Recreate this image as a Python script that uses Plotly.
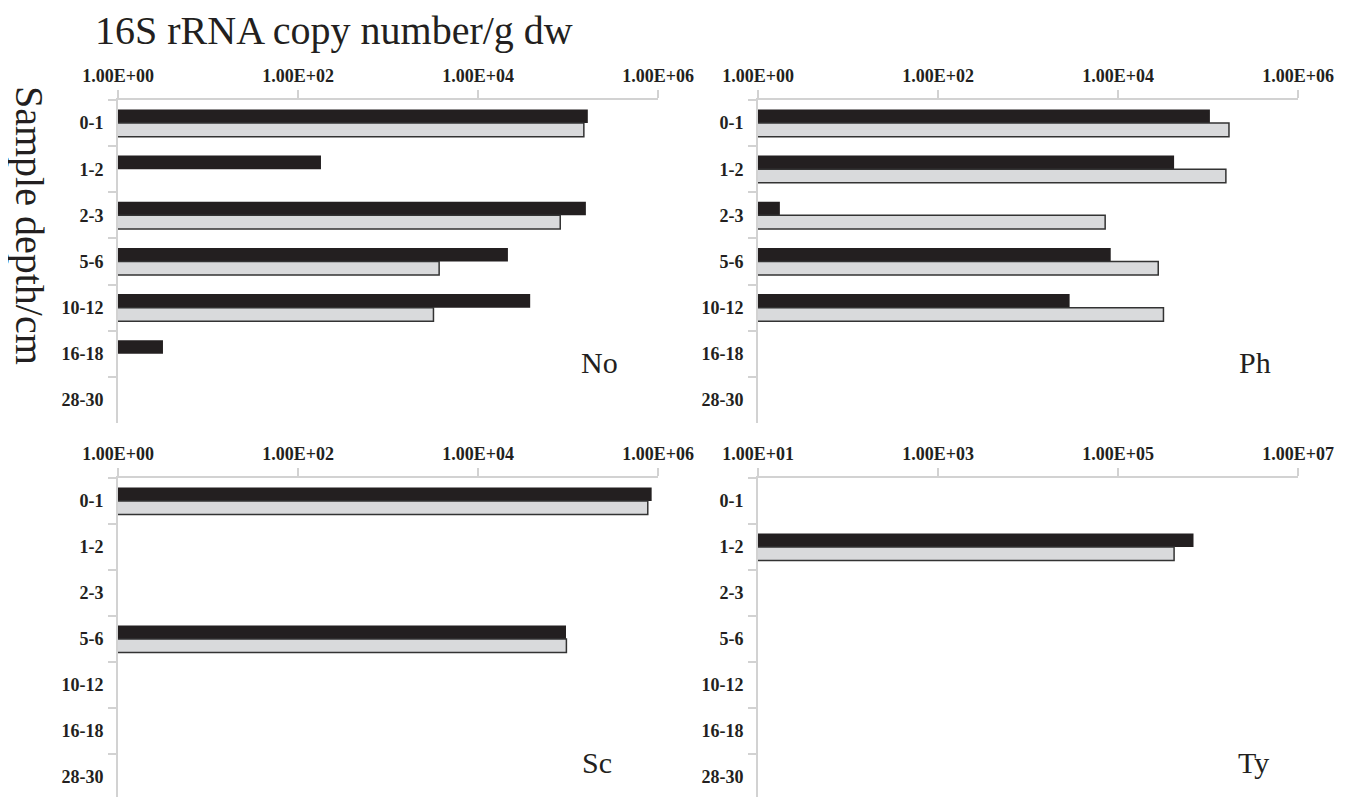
import plotly.graph_objects as go

categories = ["0-1", "1-2", "2-3", "5-6", "10-12", "16-18", "28-30"]

no_black = [1.66e5, 180, 1.58e5, 2.15e4, 3.8e4, 3.16, None]
no_gray = [1.5e5, None, 8.2e4, 3.7e3, 3.2e3, None, None]
ph_black = [1.05e5, 4.2e4, 1.75, 8.3e3, 2.9e3, None, None]
ph_gray = [1.71e5, 1.58e5, 7.2e3, 2.8e4, 3.2e4, None, None]
sc_black = [8.5e5, None, None, 9.5e4, None, None, None]
sc_gray = [7.7e5, None, None, 9.6e4, None, None, None]
ty_black = [None, 6.9e5, None, None, None, None, None]
ty_gray = [None, 4.2e5, None, None, None, None, None]

panels = ["No", "Ph", "Sc", "Ty"]
tick_vals_a = [1, 1e2, 1e4, 1e6]
tick_text_a = ["1.00E+00", "1.00E+02", "1.00E+04", "1.00E+06"]
tick_vals_b = [1e1, 1e3, 1e5, 1e7]
tick_text_b = ["1.00E+01", "1.00E+03", "1.00E+05", "1.00E+07"]

BLACK = "#231f20"
GRAY = "#d9dadc"
OUTLINE = "#333333"
AXIS = "#d2d2d2"
FONT = "Liberation Serif"

W, H, OFF = 1350, 797, 8  # page body margin offset


def px(p):
    return (p - OFF) / W


def py(p):
    return 1 - (p - OFF) / H


data = [(no_black, no_gray), (ph_black, ph_gray), (sc_black, sc_gray), (ty_black, ty_gray)]

fig = go.Figure()
for i, (b, g) in enumerate(data):
    n = "" if i == 0 else str(i + 1)
    fig.add_trace(go.Bar(y=categories, x=b, orientation="h", xaxis="x" + n, yaxis="y" + n,
                         marker=dict(color=BLACK, line=dict(width=0)), showlegend=False))
    fig.add_trace(go.Bar(y=categories, x=g, orientation="h", xaxis="x" + n, yaxis="y" + n,
                         marker=dict(color=GRAY, line=dict(width=1.5, color=OUTLINE)), showlegend=False))

xdom_l = [px(118), px(658)]
xdom_r = [px(758), px(1298)]
ydom_t = [py(423), py(100)]
ydom_b = [0, py(478)]
band_b = (H + OFF - 478) / 46.0  # number of 46px bands that fit in the lower domain

layout = dict(
    width=W, height=H,
    margin=dict(l=0, r=0, t=0, b=0, autoexpand=False),
    paper_bgcolor="white", plot_bgcolor="white",
    barmode="group", bargap=0.41, bargroupgap=0,
    font=dict(family=FONT, color="#231f20"),
)

specs = [(xdom_l, ydom_t, tick_vals_a, tick_text_a, [0, 6], [6.5, -0.5]),
         (xdom_r, ydom_t, tick_vals_a, tick_text_a, [0, 6], [6.5, -0.5]),
         (xdom_l, ydom_b, tick_vals_a, tick_text_a, [0, 6], [band_b - 0.5, -0.5]),
         (xdom_r, ydom_b, tick_vals_b, tick_text_b, [1, 7], [band_b - 0.5, -0.5])]

for i, (xd, yd, tv, tt, xr, yr) in enumerate(specs):
    n = "" if i == 0 else str(i + 1)
    layout["xaxis" + n] = dict(
        domain=xd, anchor="y" + n, type="log", range=xr, side="top", automargin=False,
        tickvals=tv, ticktext=tt, showgrid=False, zeroline=False,
        showline=True, linecolor=AXIS, linewidth=2,
        ticks="outside", ticklen=8, tickwidth=2, tickcolor=AXIS, ticklabelstandoff=1,
        tickfont=dict(family=FONT, size=18, color="#231f20", weight="bold"),
    )
    layout["yaxis" + n] = dict(
        domain=yd, anchor="x" + n, type="category", range=yr, automargin=False,
        showgrid=False, zeroline=False, showline=True, linecolor=AXIS, linewidth=2,
        ticks="outside", ticklen=8, tickwidth=2, tickcolor=AXIS, tickson="boundaries",
        ticklabelstandoff=9,
        tickfont=dict(family=FONT, size=18, color="#231f20", weight="bold"),
    )

fig.update_layout(**layout)

annotations = [
    dict(text="16S rRNA copy number/g dw", x=px(93), y=py(30), xref="paper", yref="paper",
         xanchor="left", yanchor="middle", showarrow=False, font=dict(family=FONT, size=40, color="#231f20")),
    dict(text="Sample depth/cm", x=px(30), y=py(225), xref="paper", yref="paper",
         xanchor="center", yanchor="middle", textangle=90, showarrow=False,
         font=dict(family=FONT, size=40, color="#231f20")),
]
label_pos = [(599, 362), (1255, 362), (597, 762), (1253, 762)]
for name, (lx, ly) in zip(panels, label_pos):
    annotations.append(dict(text=name, x=px(lx), y=py(ly), xref="paper", yref="paper",
                            xanchor="center", yanchor="middle", showarrow=False,
                            font=dict(family=FONT, size=30, color="#231f20")))
fig.update_layout(annotations=annotations)

fig.write_html("out.html")
